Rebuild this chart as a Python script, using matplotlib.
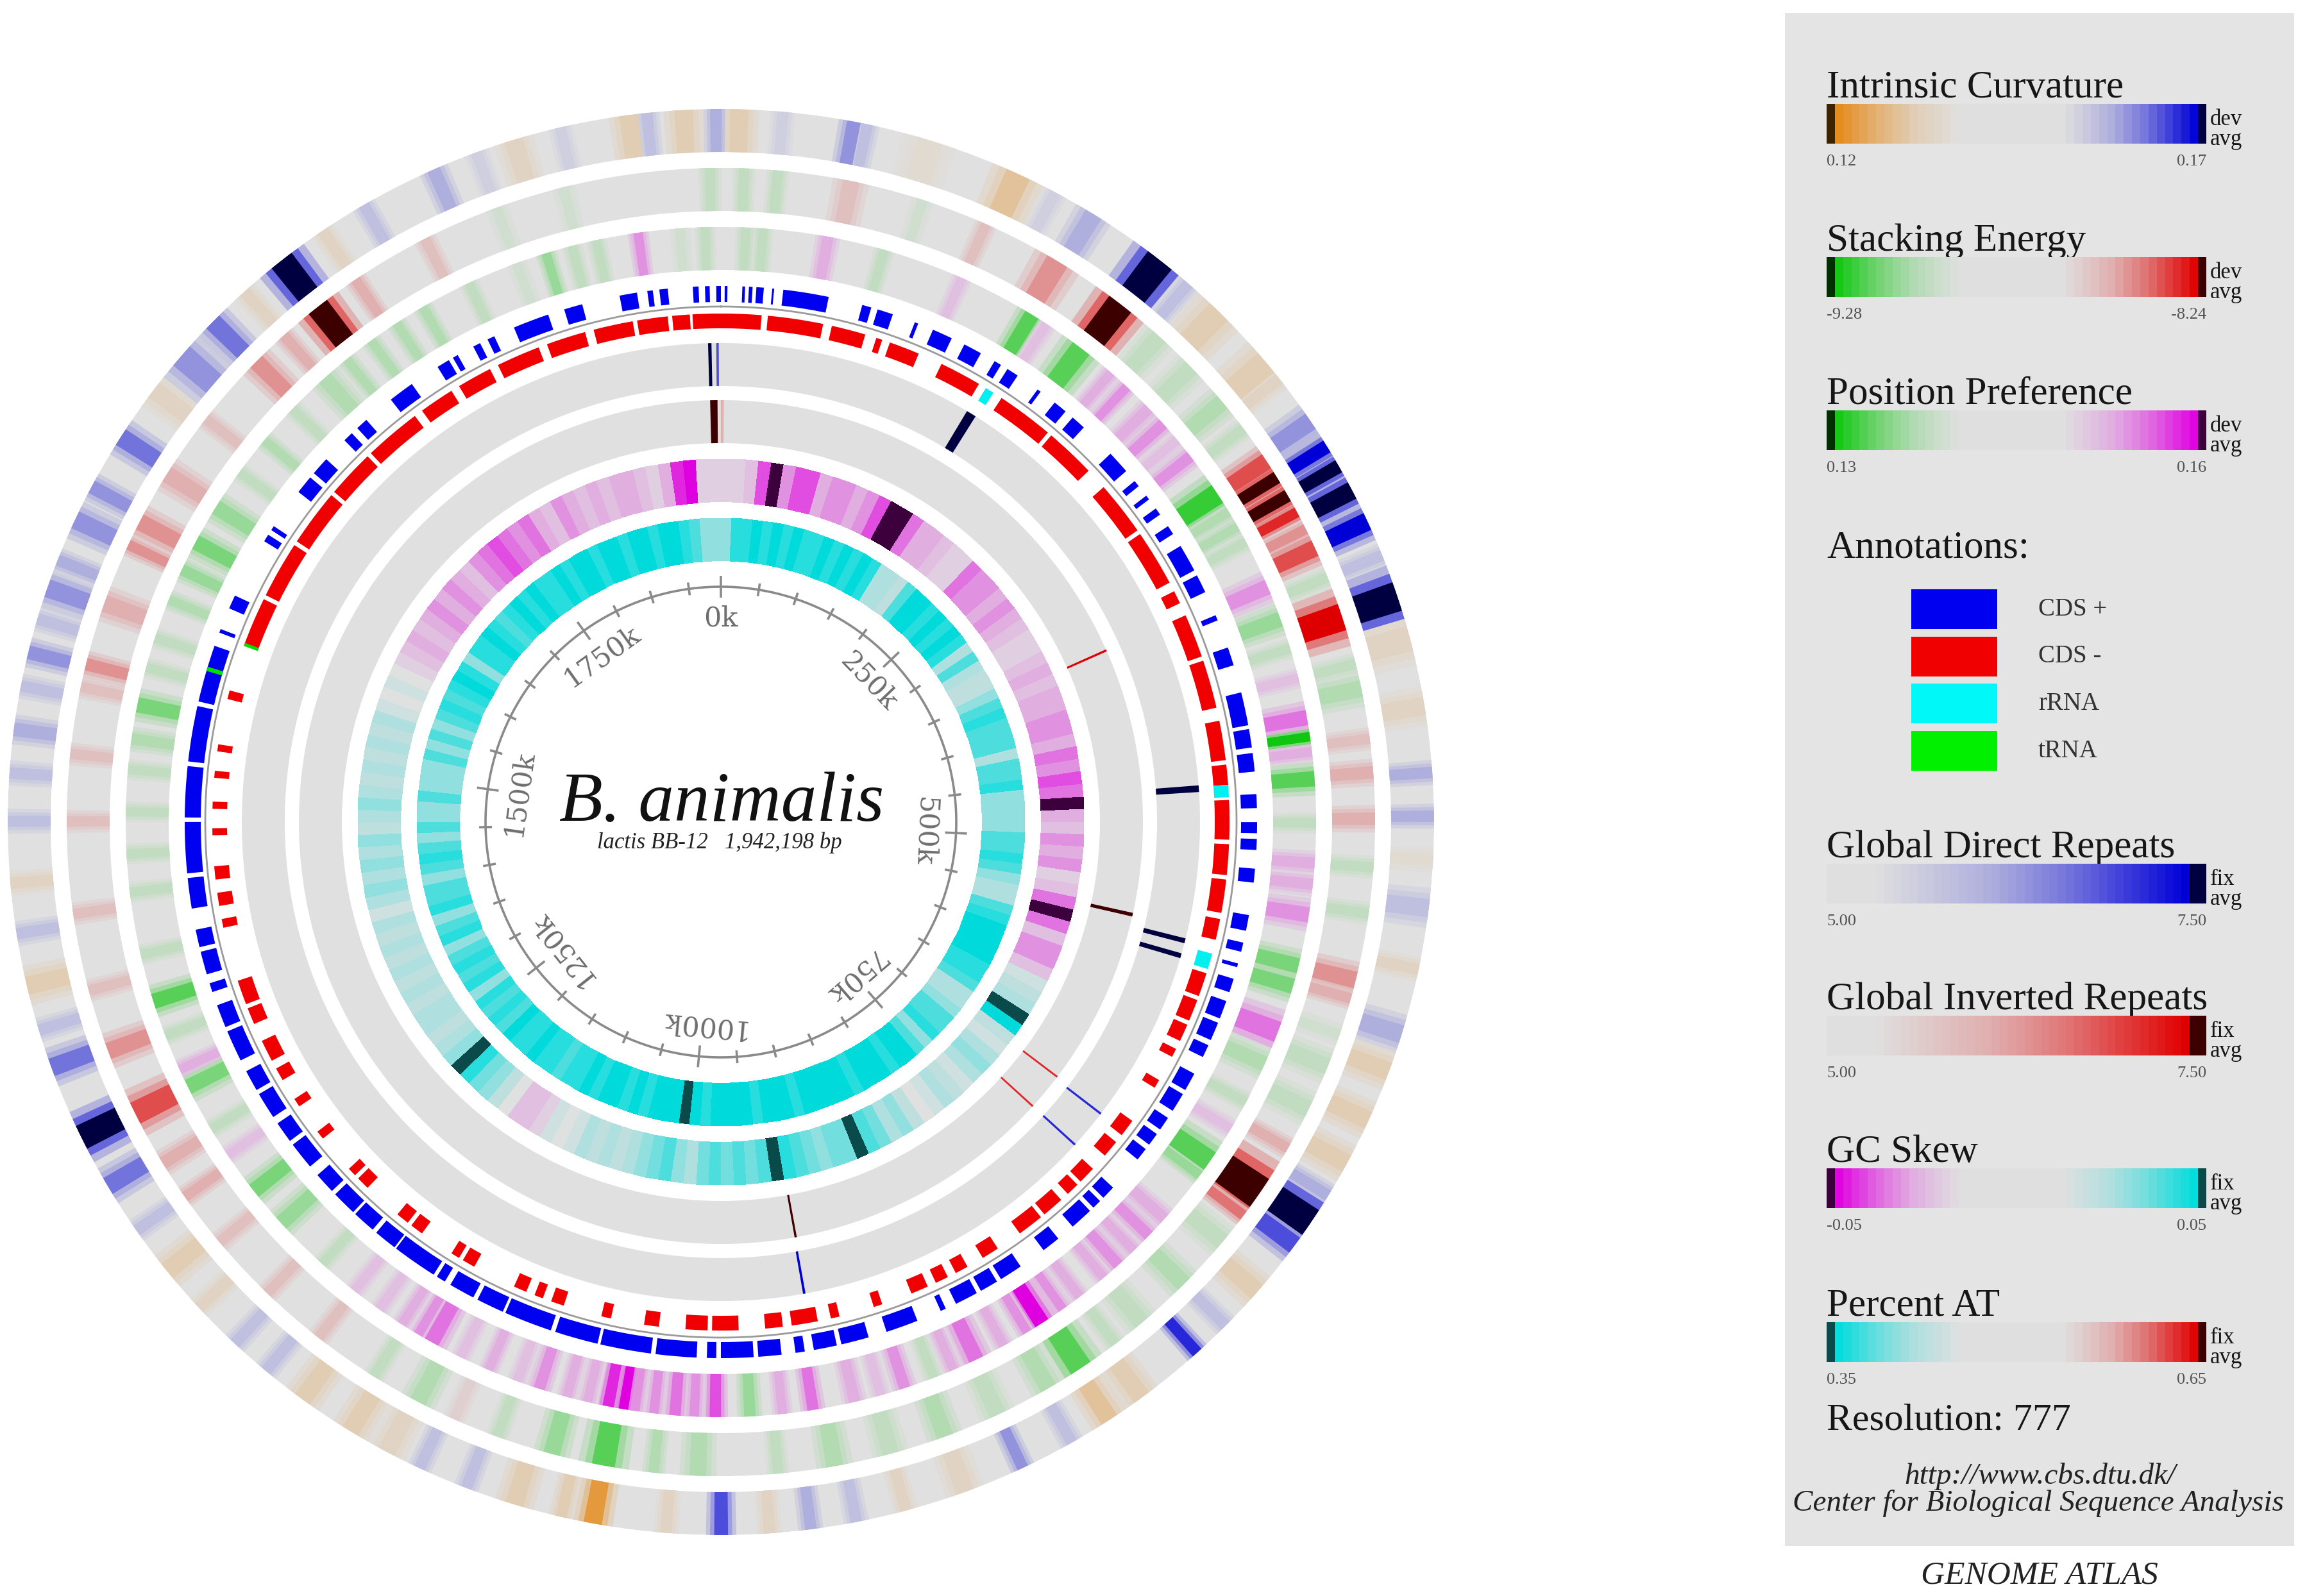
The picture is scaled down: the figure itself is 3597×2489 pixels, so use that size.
import numpy as np
import matplotlib
matplotlib.use("Agg")
import matplotlib.pyplot as plt
from matplotlib.colors import LinearSegmentedColormap, Normalize, to_rgb
from matplotlib.patches import Rectangle

GENOME_KB = 1942.198

# heat rings: (window centre kb, window width kb, level)
# level -9..9 : 0 = genome average (grey), +-8 = end of scale, +-9 = beyond scale
CURVATURE = [
    (8, 8, -3), (27, 5, 1), (58, 6, 4), (64, 5, 2), (92, 11, -1), (133, 11, -4), (151, 5, 1),
    (170, 8, 3), (205, 13, 9), (221, 5, 2), (239, 11, -3), (269, 11, -3), (278, 5, -2), (301, 8, 4),
    (314, 6, 8), (324, 6, 9), (336, 8, 9), (351, 8, 8), (367, 5, 2), (386, 13, 9), (405, 11, -2),
    (435, 8, -2), (464, 5, 3), (483, 5, 3), (502, 5, -1), (523, 8, 2), (550, 5, -2), (579, 8, 3),
    (596, 8, -3), (619, 8, -3), (640, 8, -3), (656, 5, 3), (670, 13, 9), (682, 8, 6), (708, 8, -3),
    (728, 5, 2), (745, 5, 7), (776, 8, -3), (793, 8, -4), (812, 5, 2), (836, 5, 4), (863, 8, -2),
    (890, 5, -2), (912, 5, 2), (932, 5, 3), (950, 5, -2), (971, 6, 6), (995, 5, -2), (1027, 8, -7),
    (1041, 5, -3), (1062, 8, -3), (1084, 5, 2), (1106, 5, 2), (1122, 8, -2), (1140, 8, -3),
    (1165, 8, -3), (1185, 5, 2), (1203, 5, 2), (1225, 5, -2), (1246, 8, -3), (1268, 5, 2),
    (1291, 8, 5), (1315, 11, 9), (1348, 8, 5), (1365, 5, 2), (1385, 8, -3), (1408, 5, 2),
    (1430, 5, -2), (1457, 5, 2), (1478, 5, 2), (1497, 6, 3), (1516, 5, 2), (1531, 6, 4), (1546, 5, 2),
    (1560, 8, 4), (1573, 5, 3), (1592, 8, 4), (1608, 6, 4), (1633, 8, 5), (1658, 8, -2), (1677, 11, 4),
    (1697, 8, 5), (1716, 5, -2), (1737, 11, 9), (1759, 5, -2), (1780, 5, 2), (1814, 6, 3),
    (1834, 5, 1), (1851, 8, -2), (1872, 5, 1), (1902, 8, -3), (1910, 5, 2), (1926, 8, -3), (1940, 5, 3),
]

STACKING = [
    (11, 5, -2), (27, 5, -2), (62, 8, 2), (97, 5, -1), (129, 5, 2), (167, 11, 4), (203, 13, 9),
    (227, 8, -2), (248, 8, -2), (270, 8, -3), (286, 5, -2), (305, 8, 6), (314, 6, 9), (324, 6, 9),
    (333, 5, 7), (342, 5, 4), (352, 8, 6), (367, 5, -2), (387, 13, 8), (410, 5, -2), (422, 8, -3),
    (446, 5, 2), (462, 6, 3), (484, 6, 3), (507, 5, -2), (529, 5, -2), (561, 8, 4), (570, 5, 3),
    (588, 5, -1), (604, 8, -2), (626, 8, -2), (647, 5, 3), (672, 16, 9), (685, 5, 5), (701, 8, -2),
    (728, 8, -3), (755, 8, -2), (771, 5, -2), (791, 11, -6), (809, 8, -3), (836, 8, -2), (863, 8, -3),
    (890, 8, -2), (917, 8, -3), (944, 5, -2), (982, 8, -3), (1003, 5, -3), (1027, 11, -6),
    (1052, 8, -4), (1079, 5, -2), (1101, 5, 1), (1120, 8, -3), (1144, 5, -2), (1176, 5, 2),
    (1208, 5, 2), (1241, 5, 2), (1268, 5, 3), (1287, 6, 3), (1314, 11, 6), (1346, 8, 4), (1376, 5, 2),
    (1413, 5, 2), (1457, 5, 2), (1489, 5, 2), (1521, 5, 2), (1532, 6, 4), (1562, 8, 3), (1592, 5, 4),
    (1604, 8, 4), (1630, 8, 3), (1662, 5, 2), (1698, 8, 4), (1716, 5, 3), (1737, 11, 9), (1759, 5, 3),
    (1797, 5, 2), (1834, 5, -1), (1867, 5, -1), (1937, 5, -2),
]

POSITION_PREF = [
    (13, 5, -2), (22, 5, -2), (56, 6, 3), (86, 5, -2), (129, 5, 2), (170, 8, -6), (179, 5, 2),
    (201, 11, -6), (221, 5, 3), (232, 5, 4), (248, 6, 3), (259, 6, 4), (270, 5, 2), (281, 6, 4),
    (305, 11, -7), (316, 5, -3), (325, 5, -3), (334, 5, -2), (360, 8, 4), (378, 8, -4), (394, 5, -2),
    (410, 5, 2), (431, 8, 5), (441, 5, -8), (449, 5, 3), (463, 8, -6), (486, 5, -2), (507, 6, 3),
    (518, 6, 3), (534, 8, 4), (561, 8, -5), (572, 8, -5), (597, 11, 5), (615, 8, -3), (637, 5, -2),
    (653, 5, 2), (673, 11, -6), (682, 5, -4), (711, 6, 3), (723, 6, 4), (734, 5, 3), (745, 6, 4),
    (755, 5, 3), (771, 5, 3), (782, 5, 4), (795, 8, 8), (804, 5, 4), (818, 5, 3), (834, 8, 5),
    (847, 5, 3), (858, 5, -2), (874, 6, 4), (887, 5, 2), (901, 6, 3), (923, 6, 5), (939, 5, 3),
    (956, 6, -4), (974, 6, 6), (985, 5, 4), (995, 6, 5), (1006, 5, 4), (1016, 5, 4), (1022, 5, 8),
    (1030, 6, 7), (1041, 5, 3), (1052, 5, 3), (1067, 6, 4), (1079, 5, 2), (1095, 5, 3), (1111, 5, 2),
    (1128, 8, 5), (1136, 5, 4), (1146, 5, 3), (1160, 5, 2), (1176, 5, 2), (1198, 5, -2), (1228, 8, -4),
    (1250, 8, -5), (1273, 5, 2), (1289, 5, -2), (1314, 8, -5), (1324, 5, 3), (1343, 5, -2),
    (1362, 8, -6), (1387, 5, -2), (1420, 5, -2), (1440, 5, -2), (1462, 5, -2), (1484, 5, -2),
    (1500, 6, -3), (1518, 8, -5), (1538, 5, -2), (1554, 5, -2), (1575, 5, -3), (1592, 6, -4),
    (1608, 8, -5), (1629, 8, -4), (1651, 5, -2), (1672, 5, -3), (1694, 5, -2), (1717, 8, -3),
    (1732, 5, -3), (1748, 5, -3), (1764, 5, -3), (1780, 5, -3), (1807, 5, -2), (1834, 5, -1),
    (1850, 5, -4), (1864, 5, -2), (1877, 5, -2), (1899, 5, 4), (1921, 5, -1), (1934, 5, -2),
]

DIRECT_REPEATS = [
    (170, 6.5, 9), (464, 4.3, 9), (563, 3.2, 9), (573, 3.2, 9), (688, 1.4, 7), (714, 1.4, 7),
    (917, 1.6, 8), (1935, 2.2, 9), (1940, 1.6, 6),
]

INVERTED_REPEATS = [
    (1, 2.2, 3), (356, 1.6, 8), (554, 2.7, 9), (686, 1.4, 7), (714, 1.4, 7), (916, 1.6, 9),
    (1937, 5.4, 9),
]

# 180 equal windows round the genome
GC_SKEW = [
    -1, -1, -2, -6, -9, -4, -6, -6, -3, -4, -4, -3, -4, -6, -9, -9, -5, -3, -3, -2,
    -1, -1, -5, -4, -4, -3, -4, -3, -2, -1, -1, -2, -3, -2, -3, -3, -4, -4, -3, -5,
    -4, -6, -5, -9, -3, -2, -4, -3, -4, -1, -2, -5, -9, -5, -2, -4, -4, -2, 1, 2,
    3, 9, 8, 2, 1, 3, 4, 3, 1, 2, 3, 1, 0, 2, 4, 3, 5, 6, 9, 5,
    5, 4, 5, 6, 7, 9, 6, 5, 6, 5, 6, 5, 3, 4, 6, 5, 4, 3, 2, 3,
    2, 3, 1, 0, 1, -1, -2, -2, 0, 2, 4, 5, 7, 9, 4, 3, 2, 3, 3, 2,
    3, 2, 3, 2, 3, 2, 3, 1, 3, 4, 3, 4, 3, 4, 2, 3, 4, 3, 2, 3,
    2, 3, 2, 3, 1, 0, 1, 0, -1, -2, -3, -2, -3, -4, -3, -4, -3, -2, -4, -5,
    -6, -5, -4, -5, -3, -2, -4, -3, -2, -3, -2, -3, -3, -2, -1, -3, -7, -8, -1, -1,
]

PERCENT_AT = [
    -4, -7, -7, -8, -7, -8, -7, -8, -7, -7, -8, -7, -8, -7, -8, -7, -3, -3, -2, -6,
    -8, -8, -7, -8, -7, -8, -7, -3, -6, -3, -2, -2, -4, -6, -7, -6, -6, -6, -3, -6,
    -6, -7, -4, -4, -4, -4, -6, -6, -7, -6, -4, -3, -3, -6, -7, -8, -8, -8, -8, -7,
    -7, -6, -3, -3, -4, -6, -6, -7, -4, -6, -8, -8, -7, -8, -8, -8, -7, -8, -8, -8,
    -8, -8, -7, -8, -8, -8, -7, -8, -8, -8, -8, -7, -8, -9, -8, -8, -8, -7, -8, -7,
    -8, -8, -7, -8, -7, -7, -6, -7, -7, -8, -7, -7, -8, -6, -7, -6, -7, -4, -7, -6,
    -7, -6, -4, -7, -6, -4, -7, -6, -6, -4, -6, -7, -6, -4, -6, -4, -4, -6, -4, -4,
    -4, -6, -4, -6, -4, -6, -7, -6, -7, -8, -7, -4, -7, -7, -8, -7, -6, -7, -8, -7,
    -8, -7, -7, -8, -7, -8, -8, -7, -8, -8, -7, -8, -8, -7, -8, -8, -7, -6, -4, -4,
]

# annotations: (start kb, end kb)
CDS_PLUS = [
    (2.2, 3.8), (12.4, 14), (16.2, 18.3), (20.5, 24.8), (29.7, 30.8), (36.1, 62.6), (82.5, 87.9),
    (91.7, 100.9), (114.4, 116.5), (125.7, 137.6), (145.7, 156.5), (165.6, 169.9), (174.3, 181.3),
    (195.3, 197.5), (207.7, 215.8), (221.2, 229.8), (251.4, 264.9), (272.4, 276.2), (283.2, 285.9),
    (292.4, 296.7), (304.8, 310.2), (318.3, 334.5), (337.7, 348.5), (363.1, 366.3), (383, 393.8),
    (410, 429.4), (431.6, 442.4), (445.6, 456.4), (469.4, 477.5), (485.6, 492), (495.3, 501.7),
    (512.5, 520.6), (539.5, 548.7), (555.7, 561.1), (568.1, 570.3), (577.3, 585.4), (590.8, 601.5),
    (604.2, 615), (618.3, 625.8), (636.6, 647.4), (650.1, 661.4), (666.3, 674.4), (677.6, 685.2),
    (688.4, 696), (717.5, 725.6), (728.3, 733.7), (736.4, 749.9), (760.7, 771.5), (787.7, 801.2),
    (803.9, 814.6), (817.3, 830.8), (837.3, 840.5), (855.1, 874), (884.8, 901), (903.7, 917.2),
    (922.5, 927.9), (936, 949.5), (952.2, 971.1), (973.8, 979.2), (985.1, 1008.9), (1011.6, 1041.2),
    (1042.9, 1068.2), (1070.9, 1099), (1100.6, 1116.8), (1119.5, 1134.6), (1138.3, 1143.7),
    (1145.9, 1172.3), (1173.4, 1186.9), (1189.6, 1203.1), (1204.7, 1219.3), (1222, 1234.4),
    (1240.9, 1257), (1259.7, 1272.1), (1276.5, 1292.1), (1294.8, 1307.2), (1314.2, 1332.6),
    (1335.3, 1348.8), (1356.9, 1362.2), (1367.6, 1381.1), (1383.8, 1394.1), (1406.5, 1424.3),
    (1427, 1456.7), (1459.3, 1489), (1491.7, 1524.1), (1526.8, 1560.2), (1568.3, 1570.5),
    (1583.4, 1591.5), (1627.1, 1631.5), (1634.7, 1637.4), (1661.7, 1672.5), (1675.7, 1686.5),
    (1701.6, 1707.5), (1711.8, 1718.9), (1737.2, 1752.3), (1770.1, 1777.7), (1780.4, 1783.6),
    (1793.8, 1798.2), (1803, 1807.3), (1819.7, 1840.8), (1850.5, 1861.3), (1883.4, 1893.6),
    (1899.6, 1902.8), (1906.6, 1911.5), (1926, 1929.3), (1933, 1935.7), (1939.5, 1942.2),
]

CDS_MINUS = [
    (0, 24.8), (28.6, 62.6), (68, 89), (96, 99.8), (104.7, 123.5), (138.7, 164.5), (180.7, 215.8),
    (218.5, 249.8), (263.3, 296.7), (299.4, 334), (339.9, 348), (356.1, 383), (385.7, 415.4),
    (423.5, 447.8), (450.5, 462.9), (472.1, 496.3), (499, 517.9), (520.6, 541.1), (544.9, 557.8),
    (578.9, 593.5), (596.1, 609.6), (612.3, 623.1), (628.5, 633.9), (650.1, 655.5), (679.8, 690.6),
    (696, 706.7), (717.5, 728.3), (731, 739.1), (744.5, 758), (760.7, 776.9), (793.1, 803.9),
    (814.6, 822.7), (828.1, 836.2), (841.6, 852.4), (871.3, 876.7), (898.3, 903.7), (911.8, 927.9),
    (933.3, 944.1), (960.3, 976.5), (979.2, 992.7), (1008.9, 1018), (1038.5, 1044.5),
    (1068.2, 1076.3), (1081.7, 1087.1), (1092.5, 1100.6), (1127.6, 1135.6), (1138.3, 1143.7),
    (1165.3, 1173.4), (1176.1, 1184.2), (1208.5, 1216.6), (1219.3, 1224.7), (1248.9, 1254.3),
    (1273.2, 1278.6), (1292.1, 1300.2), (1305.6, 1319.1), (1330.4, 1340.7), (1343.4, 1358.5),
    (1391.9, 1397.3), (1405.4, 1413.5), (1421.6, 1429.7), (1448.6, 1452.9), (1464.7, 1469.1),
    (1483.6, 1487.9), (1499.8, 1504.1), (1532.2, 1537.6), (1566.2, 1596.9), (1599.6, 1634.7),
    (1637.4, 1672.5), (1675.1, 1704.8), (1707.5, 1742.6), (1748, 1769.6), (1775, 1796.5),
    (1801.9, 1828.9), (1834.3, 1858.6), (1864, 1888.3), (1891, 1909.8), (1912.5, 1923.3),
    (1924.9, 1942.2),
]

RRNA = [(169.4, 174.8), (462.9, 470.4), (566.5, 576.2)]
TRNA_PLUS = [(1545, 1547.5)]
TRNA_MINUS = [(1566, 1568)]

LABEL_KB = [0, 250, 500, 750, 1000, 1250, 1500, 1750]

LEGEND_TITLES = ["Intrinsic Curvature", "Stacking Energy", "Position Preference",
                 "Global Direct Repeats", "Global Inverted Repeats", "GC Skew", "Percent AT"]
LEGEND_LOW = ["0.12", "-9.28", "0.13", "5.00", "5.00", "-0.05", "0.35"]
LEGEND_HIGH = ["0.17", "-8.24", "0.16", "7.50", "7.50", "0.05", "0.65"]
LEGEND_TAG = ["dev", "dev", "dev", "fix", "fix", "fix", "fix"]
ANNOT_NAMES = ["CDS +", "CDS -", "rRNA", "tRNA"]

# ---------------------------------------------------------------- styling
W, H = 3597, 2489
GREY = "#e0e0e0"
PANEL = "#e4e4e4"
INK = "#161616"
SERIF = ["Liberation Serif", "DejaVu Serif"]
norm = Normalize(-9, 9)


def tint(c, a):
    return tuple(np.array(to_rgb(GREY)) * (1 - a) + np.array(to_rgb(c)) * a)


def scale(dark_lo, lo, hi, dark_hi):
    t = lambda v: (v + 9) / 18
    return LinearSegmentedColormap.from_list("", [
        (0, dark_lo), (t(-8), lo), (t(-7), tint(lo, 0.82)), (t(-5), tint(lo, 0.48)),
        (t(-3), tint(lo, 0.22)), (t(0), GREY), (t(3), tint(hi, 0.22)), (t(5), tint(hi, 0.48)),
        (t(7), tint(hi, 0.82)), (t(8), hi), (1, dark_hi)])


cm_curv = scale("#3c2200", "#e68a1a", "#0000d8", "#000040")
cm_stack = scale("#003000", "#10c810", "#e00000", "#3c0000")
cm_pos = scale("#003000", "#10c810", "#e000e0", "#3c003c")
cm_dir = scale(GREY, GREY, "#0000d8", "#000040")
cm_inv = scale(GREY, GREY, "#e00000", "#3c0000")
cm_gc = scale("#3c003c", "#e000e0", "#00dcdc", "#0a4a4a")
cm_at = scale("#0a4a4a", "#00dcdc", "#e00000", "#3c0000")

fig = plt.figure(figsize=(W / 100, H / 100), dpi=100)
page = fig.add_axes([0, 0, 1, 1])
page.axis("off")

cx, cy, R = 1124, 1282, 1112
RING_W = 67
ax = fig.add_axes([(cx - R) / W, (H - cy - R) / H, 2 * R / W, 2 * R / H], projection="polar")
ax.set_theta_zero_location("N")
ax.set_theta_direction(-1)
ax.axis("off")


def rad(kb):
    return np.asarray(kb, dtype=float) / GENOME_KB * 2 * np.pi


def heat_ring(data, cmap, r_out, soft=True):
    ax.bar(0, RING_W, width=2 * np.pi, bottom=r_out - RING_W, color=GREY, linewidth=0)
    pos, wid, lev = map(np.array, zip(*data))
    # soft fringe round each window, then the window itself
    layers = [(2.2, 0.3), (1.6, 0.6), (1.0, 1.0)] if soft else [(1.0, 1.0)]
    for grow, k in layers:
        ax.bar(rad(pos), RING_W, width=rad(wid * grow), bottom=r_out - RING_W,
               color=cmap(norm(lev * k)), linewidth=0)


def window_ring(levels, cmap, r_out):
    edges = np.linspace(0, 2 * np.pi, len(levels) + 1)
    ax.pcolormesh(edges, [r_out - RING_W, r_out], np.array(levels)[None, :],
                  cmap=cmap, norm=norm, shading="flat")


def genes(spans, color, r0, h):
    s, e = map(np.array, zip(*spans))
    ax.bar(rad((s + e) / 2), h, width=rad(e - s), bottom=r0, color=color, linewidth=0)


heat_ring(CURVATURE, cm_curv, 1112)
heat_ring(STACKING, cm_stack, 1020)
heat_ring(POSITION_PREF, cm_pos, 928)
heat_ring(DIRECT_REPEATS, cm_dir, 747, soft=False)
heat_ring(INVERTED_REPEATS, cm_inv, 658, soft=False)
window_ring(GC_SKEW, cm_gc, 566)
window_ring(PERCENT_AT, cm_at, 474)

# annotation ring
t = np.linspace(0, 2 * np.pi, 1500)
ax.plot(t, np.full_like(t, 804), color="#9a9a9a", lw=2.0)
genes(CDS_PLUS, "#0000f0", 811, 25)
genes(CDS_MINUS, "#f00000", 770, 23)
genes(RRNA, "#00f0f0", 770, 23)
genes(TRNA_PLUS, "#00e000", 811, 25)
genes(TRNA_MINUS, "#00e000", 770, 23)

# position scale
RT = 367
tick_grey = "#8a8a8a"
ax.plot(t, np.full_like(t, RT), color=tick_grey, lw=2.6)
for k in range(0, int(GENOME_KB), 50):
    d = 17 if k % 250 == 0 else 10
    ax.plot([rad(k)] * 2, [RT - d, RT + d], color=tick_grey, lw=2.6, solid_capstyle="butt")
for k in LABEL_KB:
    ax.text(rad(k), 318, f"{k}k", rotation=-k / GENOME_KB * 360, rotation_mode="anchor",
            ha="center", va="center", fontsize=31, family="DejaVu Serif", color="#6e6e6e")
ax.set_ylim(0, R)

page.text(1125, 1280, "B. animalis", fontsize=80, family=SERIF, style="italic",
          ha="center", va="baseline", color="#111111")
page.text(1122, 1323, "lactis BB-12   1,942,198 bp", fontsize=25, family=SERIF,
          style="italic", ha="center", va="baseline", color="#222222")

# ---------------------------------------------------------------- legend
page.add_patch(Rectangle((2783, 20), 794, 2391, facecolor=PANEL, edgecolor="none", zorder=0))
title_base = [152, 391, 630, 1337, 1574, 1812, 2052]
cmaps = [cm_curv, cm_stack, cm_pos, cm_dir, cm_inv, cm_gc, cm_at]
f = (np.arange(46) + 0.5) / 46
for i, base in enumerate(title_base):
    page.text(2848, base, LEGEND_TITLES[i], fontsize=44, family=SERIF, color=INK, va="baseline")
    top = base + 10
    if LEGEND_TAG[i] == "dev" or i >= 5:
        lev = np.interp(f, [0.025, 0.35, 0.62, 0.975], [-8, 0, 0, 8])
        lev[f < 0.025] = -9
        lev[f > 0.975] = 9
    else:
        lev = np.interp(f, [0.12, 0.95], [0, 8])
        lev[f > 0.95] = 9
    page.imshow(lev[None, :], cmap=cmaps[i], norm=norm, extent=(2848, 3440, top + 62, top),
                aspect="auto", interpolation="nearest", zorder=3)
    page.text(3446, top + 33, LEGEND_TAG[i], fontsize=25, family=SERIF, color=INK, va="baseline")
    page.text(3446, top + 64, "avg", fontsize=25, family=SERIF, color=INK, va="baseline")
    page.text(2848, top + 96, LEGEND_LOW[i], fontsize=19, family=SERIF, color="#505050", va="baseline")
    page.text(3440, top + 96, LEGEND_HIGH[i], fontsize=19, family=SERIF, color="#505050",
              va="baseline", ha="right")

page.text(2848, 869, "Annotations:", fontsize=44, family=SERIF, color=INK, va="baseline")
for i, (name, col) in enumerate(zip(ANNOT_NAMES, ["#0000f0", "#f00000", "#00f8f8", "#00f000"])):
    y0 = 919 + i * 73.7
    page.add_patch(Rectangle((2980, y0), 134, 62, facecolor=col, edgecolor="none", zorder=3))
    page.text(3178, y0 + 31, name, fontsize=28, family=SERIF, color="#333333", va="center")

page.text(2848, 2229, "Resolution: 777", fontsize=43, family=SERIF, color=INK, va="baseline")
page.text(3181, 2314, "http://www.cbs.dtu.dk/", fontsize=34, family=SERIF, style="italic",
          color="#222222", ha="center", va="baseline")
page.text(3178, 2356, "Center for Biological Sequence Analysis", fontsize=34, family=SERIF,
          style="italic", color="#222222", ha="center", va="baseline")
page.text(3180, 2469, "GENOME ATLAS", fontsize=37, family=SERIF, style="italic",
          color="#222222", ha="center", va="baseline")

page.set_xlim(0, W)
page.set_ylim(H, 0)

fig.savefig("out.png", dpi=100, facecolor="white")
